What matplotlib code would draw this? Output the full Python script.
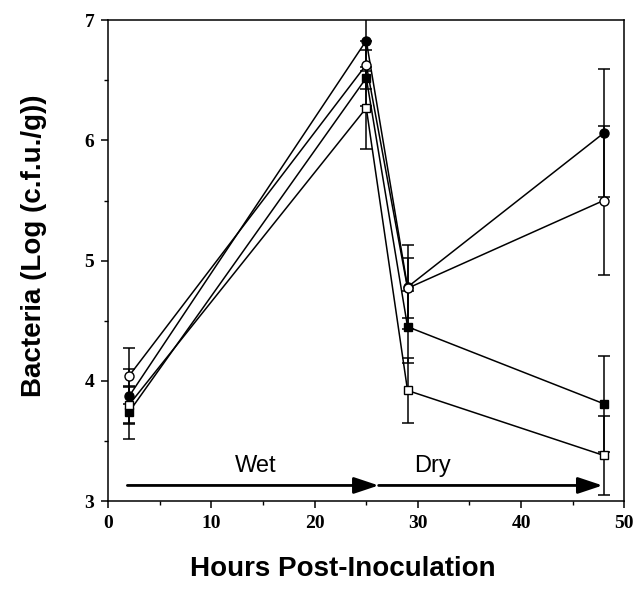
import matplotlib.pyplot as plt
import numpy as np

hours = [2, 25, 29, 48]

filled_circle = [3.87, 6.83, 4.78, 6.06]
filled_circle_err = [0.23, 0.25, 0.35, 0.53]
open_circle = [4.04, 6.63, 4.77, 5.50]
open_circle_err = [0.23, 0.20, 0.25, 0.62]
filled_square = [3.74, 6.52, 4.45, 3.81]
filled_square_err = [0.22, 0.23, 0.30, 0.40]
open_square = [3.80, 6.27, 3.92, 3.38]
open_square_err = [0.15, 0.34, 0.27, 0.33]

fig = plt.figure(figsize=(6.37, 5.93), dpi=100)
ax = fig.add_axes([0.170, 0.155, 0.810, 0.811])

series = [
    (filled_circle, filled_circle_err, 'o', 'black', 6.5),
    (open_circle, open_circle_err, 'o', 'white', 6.5),
    (filled_square, filled_square_err, 's', 'black', 6),
    (open_square, open_square_err, 's', 'white', 6),
]
for vals, err, m, fc, ms in series:
    ax.errorbar(hours, vals, yerr=err, color='black', marker=m, markerfacecolor=fc,
                markeredgecolor='black', markersize=ms, lw=1.1, elinewidth=1.1,
                capsize=4.5, capthick=1.1)

# wet / dry arrows
arrow = dict(arrowstyle='-|>,head_length=1.5,head_width=0.5', color='black', lw=2,
             shrinkA=0, shrinkB=0)
ax.annotate('', xy=(26.2, 3.13), xytext=(1.85, 3.13), arrowprops=arrow)
ax.annotate('', xy=(47.9, 3.13), xytext=(26.2, 3.13), arrowprops=arrow)
ax.text(14.3, 3.29, 'Wet', ha='center', va='center', fontsize=17, family='Liberation Sans')
ax.text(31.4, 3.29, 'Dry', ha='center', va='center', fontsize=17, family='Liberation Sans')

ax.set_xlim(0, 50)
ax.set_ylim(3, 7)
ax.set_xticks(np.arange(0, 51, 10))
ax.set_xticks(np.arange(5, 50, 10), minor=True)
ax.set_yticks(np.arange(3, 8, 1))
ax.set_yticks(np.arange(3.5, 7, 1), minor=True)
ax.tick_params(which='major', direction='out', length=5, width=1.1, pad=5)
ax.tick_params(which='minor', direction='out', length=3, width=1)
for lab in ax.get_xticklabels() + ax.get_yticklabels():
    lab.set_fontfamily('Liberation Serif')
    lab.set_fontweight('bold')
    lab.set_fontsize(14)
for s in ax.spines.values():
    s.set_linewidth(1.1)

ax.set_xlabel('Hours Post-Inoculation', fontsize=20, fontweight='bold',
              family='Liberation Sans')
ax.set_ylabel('Bacteria (Log (c.f.u./g))', fontsize=20, fontweight='bold',
              family='Liberation Sans')
ax.xaxis.set_label_coords(0.455, -0.115)
ax.yaxis.set_label_coords(-0.118, 0.53)

fig.savefig('out.png', dpi=100)
